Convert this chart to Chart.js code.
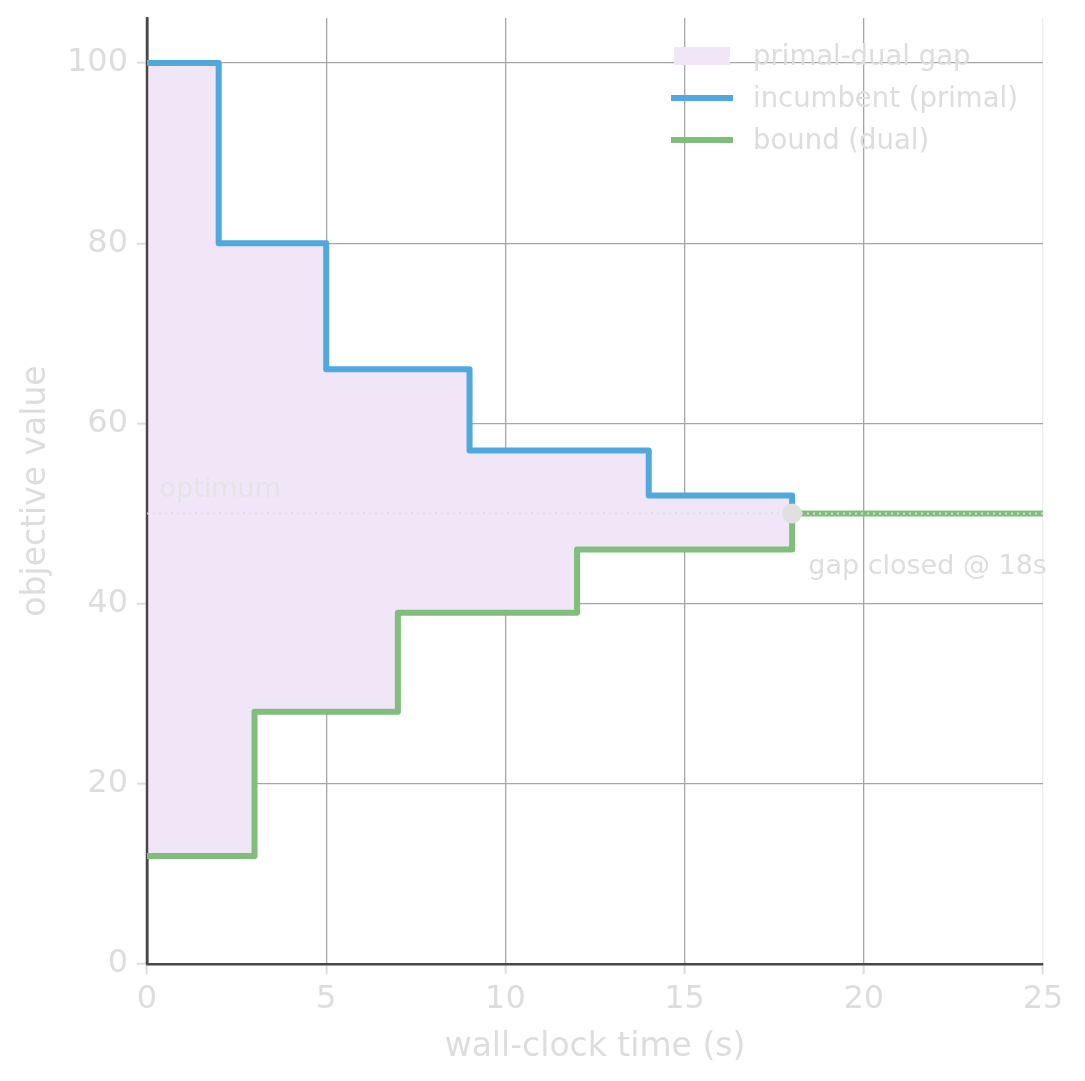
<!DOCTYPE html>
<html>
<head>
<meta charset="utf-8">
<script src="https://cdn.jsdelivr.net/npm/chart.js@4.4.0/dist/chart.umd.min.js"></script>
<style>
  html, body { margin: 0; padding: 0; background: #ffffff; }
</style>
</head>
<body>
<canvas id="gapChart" width="1085" height="1081"></canvas>
<script>
// incumbent (primal) steps
const incumbentTime = [0, 2, 5, 9, 14, 18];
const incumbentValue = [100, 80, 66, 57, 52, 50];
// bound (dual) steps
const boundTime = [0, 3, 7, 12, 18, 25];
const boundValue = [12, 28, 39, 46, 50, 50];
// optimum / gap closing
const optimumValue = 50;
const closedAt = 18;
const xRange = [0, 25];
const xTicks = [0, 5, 10, 15, 20, 25];
const yTicks = [0, 20, 40, 60, 80, 100];
const legendLabels = ['primal-dual gap', 'incumbent (primal)', 'bound (dual)'];

const blue = '#4fa8de';
const green = '#7fbf7b';
const gapFill = '#f1e6f8';
const textGray = '#dddddd';
const spine = '#474747';
const font = 'DejaVu Sans';

const toPoints = (xs, ys) => xs.map((x, i) => ({ x: x, y: ys[i] }));

// left spine back on top of the gap fill, then legend and notes on top
const notesPlugin = {
    id: 'notes',
    beforeDatasetsDraw(chart) {
        const ctx = chart.ctx;
        const a = chart.chartArea;
        ctx.save();
        ctx.strokeStyle = spine;
        ctx.lineWidth = 2.5;
        ctx.beginPath(); ctx.moveTo(a.left, a.top); ctx.lineTo(a.left, a.bottom); ctx.stroke();
        ctx.restore();
    },
    afterDraw(chart) {
        const ctx = chart.ctx;
        const xs = chart.scales.x;
        const ys = chart.scales.y;
        ctx.save();

        // optimum label
        ctx.font = '27px "' + font + '"';
        ctx.textBaseline = 'middle';
        ctx.textAlign = 'left';
        ctx.fillStyle = '#e4e4e4';
        ctx.fillText('optimum', xs.getPixelForValue(0.35), ys.getPixelForValue(optimumValue + 2.6));

        // gap closed note
        ctx.fillStyle = textGray;
        ctx.fillText('gap closed @ ' + closedAt + 's', xs.getPixelForValue(closedAt + 0.45), ys.getPixelForValue(optimumValue - 5.9));

        // legend
        const lx = 671, tx = 753;
        const rows = [56, 98, 140];
        ctx.fillStyle = gapFill;
        ctx.fillRect(lx + 3, rows[0] - 9, 56, 18);
        ctx.lineWidth = 6;
        ctx.strokeStyle = blue;
        ctx.beginPath(); ctx.moveTo(lx, rows[1]); ctx.lineTo(lx + 62, rows[1]); ctx.stroke();
        ctx.strokeStyle = green;
        ctx.beginPath(); ctx.moveTo(lx, rows[2]); ctx.lineTo(lx + 62, rows[2]); ctx.stroke();
        ctx.font = '27.5px "' + font + '"';
        ctx.fillStyle = textGray;
        legendLabels.forEach((t, i) => ctx.fillText(t, tx, rows[i] + 2));
        ctx.restore();
    }
};

const ctx = document.getElementById('gapChart').getContext('2d');
const gapChart = new Chart(ctx, {
    type: 'line',
    data: {
        datasets: [
            {
                label: 'incumbent (primal)',
                data: toPoints(incumbentTime, incumbentValue),
                stepped: 'before',
                borderColor: blue,
                borderWidth: 6,
                borderJoinStyle: 'round',
                backgroundColor: gapFill,
                fill: 1,
                pointRadius: 0,
                order: 2
            },
            {
                label: 'bound (dual)',
                data: toPoints(boundTime, boundValue),
                stepped: 'before',
                borderColor: green,
                borderWidth: 6,
                borderJoinStyle: 'round',
                fill: false,
                pointRadius: 0,
                order: 3
            },
            {
                label: 'optimum',
                data: toPoints(xRange, [optimumValue, optimumValue]),
                borderColor: 'rgba(220,220,220,0.95)',
                borderWidth: 2,
                borderDash: [2, 4],
                fill: false,
                pointRadius: 0,
                order: 1
            },
            {
                label: 'gap closed',
                data: [{ x: closedAt, y: optimumValue }],
                showLine: false,
                pointRadius: 10,
                pointBackgroundColor: '#e0e0e0',
                pointBorderWidth: 0,
                order: 0
            }
        ]
    },
    options: {
        responsive: false,
        animation: false,
        layout: { padding: { left: 0, top: 18, right: 42, bottom: 0 } },
        plugins: {
            legend: { display: false },
            tooltip: { enabled: false },
            filler: { drawTime: 'beforeDatasetsDraw' }
        },
        scales: {
            x: {
                type: 'linear',
                min: 0,
                max: 25,
                afterBuildTicks: (scale) => { scale.ticks = xTicks.map(v => ({ value: v })); },
                afterFit: (scale) => { scale.height = 117; scale.paddingLeft = 0; scale.paddingRight = 0; },
                grid: {
                    color: (c) => c.tick && c.tick.value === 25 ? '#eeeeee' : '#a6a6a6',
                    lineWidth: 1.3,
                    tickLength: 10,
                    tickColor: textGray,
                    tickWidth: 2
                },
                border: { color: spine, width: 2.5 },
                ticks: {
                    color: textGray,
                    font: { family: font, size: 32 },
                    padding: 6,
                    maxRotation: 0
                },
                title: {
                    display: true,
                    text: 'wall-clock time (s)',
                    color: textGray,
                    font: { family: font, size: 33 },
                    padding: { top: 0, bottom: 14 }
                }
            },
            y: {
                type: 'linear',
                min: 0,
                max: 105,
                afterBuildTicks: (scale) => { scale.ticks = yTicks.map(v => ({ value: v })); },
                afterFit: (scale) => { scale.width = 147; scale.paddingTop = 0; scale.paddingBottom = 0; },
                grid: {
                    color: '#a6a6a6',
                    lineWidth: 1.3,
                    tickLength: 10,
                    tickColor: textGray,
                    tickWidth: 2
                },
                border: { color: spine, width: 2.5 },
                ticks: {
                    color: textGray,
                    font: { family: font, size: 32 },
                    padding: 9
                },
                title: {
                    display: true,
                    text: 'objective value',
                    color: textGray,
                    font: { family: font, size: 33 },
                    padding: { top: 17, bottom: 0 }
                }
            }
        }
    },
    plugins: [notesPlugin]
});
</script>
</body>
</html>
